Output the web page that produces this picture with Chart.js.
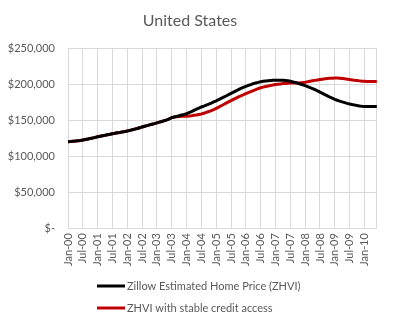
<!DOCTYPE html>
<html>
<head>
<meta charset="utf-8">
<script src="https://cdn.jsdelivr.net/npm/chart.js@4"></script>
<style>
html,body{margin:0;padding:0;background:#fff;}
#wrap{position:relative;width:395px;height:324px;}
</style>
</head>
<body>
<div id="wrap"><canvas id="c" width="395" height="324"></canvas></div>
<script>
const monthNames = ['Jan','Feb','Mar','Apr','May','Jun','Jul','Aug','Sep','Oct','Nov','Dec'];
const yearCodes = ['00','01','02','03','04','05','06','07','08','09','10'];
const categories = [];
for (const y of yearCodes) for (const m of monthNames) categories.push(m + '-' + y);
categories.length = 126; // Jan-00 .. Jun-10

// values in thousands of dollars
const zhvi = [
  120.0,120.3,120.7,121.0,121.4,121.8,122.4,123.1,123.8,124.6,125.3,126.1,
  127.0,127.7,128.4,129.0,129.7,130.4,131.2,131.8,132.4,133.0,133.7,134.3,
  135.0,135.8,136.6,137.5,138.4,139.4,140.6,141.5,142.4,143.4,144.3,145.2,
  146.2,147.2,148.2,149.4,150.5,151.8,153.5,154.4,155.3,156.2,157.1,158.0,
  159.0,160.5,162.0,163.6,165.2,166.8,168.3,169.6,171.0,172.4,173.8,175.3,
  176.8,178.5,180.2,181.9,183.6,185.4,187.2,189.0,190.8,192.5,194.2,195.7,
  197.0,198.3,199.5,200.7,201.7,202.5,203.4,204.0,204.5,204.9,205.2,205.4,
  205.5,205.5,205.5,205.4,205.2,204.8,204.0,203.2,202.3,201.3,200.2,199.1,
  198.0,196.7,195.3,193.9,192.3,190.7,189.0,187.3,185.5,183.8,182.1,180.5,
  179.0,177.7,176.5,175.4,174.4,173.4,172.5,171.7,171.0,170.4,169.8,169.3,
  169.0,168.9,168.9,168.9,168.9,168.9
];
const stableCredit = [
  120.0,120.3,120.7,121.0,121.4,121.8,122.4,123.1,123.8,124.6,125.3,126.1,
  127.0,127.7,128.4,129.0,129.7,130.4,131.2,131.8,132.4,133.0,133.7,134.3,
  135.0,135.8,136.6,137.5,138.4,139.4,140.6,141.5,142.4,143.4,144.3,145.2,
  146.2,147.2,148.2,149.4,150.5,151.8,153.5,154.4,154.9,155.2,155.3,155.4,
  155.5,155.8,156.2,156.7,157.3,157.9,158.5,159.6,160.8,162.0,163.3,164.8,
  166.5,168.2,170.0,171.8,173.6,175.4,177.2,178.9,180.6,182.3,183.8,185.3,
  187.0,188.4,189.8,191.1,192.4,193.7,195.0,195.9,196.7,197.5,198.2,198.9,
  199.5,200.0,200.4,200.8,201.1,201.3,201.5,201.6,201.7,201.8,202.0,202.3,
  202.7,203.3,204.0,204.7,205.3,205.9,206.4,206.9,207.4,207.8,208.1,208.4,
  208.5,208.5,208.3,207.9,207.4,206.9,206.4,205.9,205.4,205.0,204.6,204.2,
  204.0,203.8,203.7,203.6,203.6,203.6
];
const seriesNames = ['Zillow Estimated Home Price (ZHVI)', 'ZHVI with stable credit access'];
const seriesColors = ['#000000', '#c00000'];
const yTicks = [0, 50, 100, 150, 200, 250];

const FONT = 'Lato, "Open Sans", sans-serif';
const GRAY = '#595959';
const GRID = '#d9d9d9';

const legendPlugin = {
  id: 'customLegend',
  afterDraw(chart) {
    const ctx = chart.ctx;
    ctx.save();
    ctx.font = '11px ' + FONT;
    ctx.textBaseline = 'middle';
    ctx.textAlign = 'left';
    const rows = [286, 308];
    seriesNames.forEach((name, i) => {
      ctx.strokeStyle = seriesColors[i];
      ctx.lineWidth = 3;
      ctx.beginPath();
      ctx.moveTo(97, rows[i]);
      ctx.lineTo(125, rows[i]);
      ctx.stroke();
      ctx.fillStyle = GRAY;
      ctx.fillText(name, 127, rows[i]);
    });
    ctx.restore();
  }
};

new Chart(document.getElementById('c'), {
  type: 'line',
  data: {
    labels: categories,
    datasets: [
      { label: seriesNames[0], data: zhvi, borderColor: seriesColors[0], borderWidth: 3, pointRadius: 0, tension: 0, fill: false },
      { label: seriesNames[1], data: stableCredit, borderColor: seriesColors[1], borderWidth: 3, pointRadius: 0, tension: 0, fill: false }
    ]
  },
  options: {
    responsive: false,
    animation: false,
    layout: { padding: { left: 0, right: 15, top: 0, bottom: 53 } },
    plugins: {
      legend: { display: false },
      tooltip: { enabled: false },
      title: {
        display: true,
        text: 'United States',
        color: GRAY,
        font: { family: FONT, size: 16, weight: 'normal' },
        padding: { top: 11, bottom: 18 }
      }
    },
    scales: {
      x: {
        type: 'category',
        offset: false,
        border: { display: false },
        grid: {
          drawTicks: false,
          color: (c) => (c.index % 6 === 0 || c.index === categories.length - 1) ? GRID : 'rgba(0,0,0,0)',
          lineWidth: 1
        },
        ticks: {
          autoSkip: false,
          minRotation: 90,
          maxRotation: 90,
          padding: 5,
          color: GRAY,
          font: { family: FONT, size: 11 },
          callback: function (v, i) { return i % 6 === 0 ? categories[i] : ''; }
        }
      },
      y: {
        min: 0,
        max: 250,
        border: { display: false },
        grid: { drawTicks: false, color: GRID },
        afterBuildTicks: (axis) => { axis.ticks = yTicks.map(v => ({ value: v })); },
        afterFit: (axis) => { axis.width = 68; },
        ticks: {
          padding: 13,
          color: GRAY,
          font: { family: FONT, size: 11 },
          callback: (v) => v === 0 ? '$-' : '$' + (v * 1000).toLocaleString('en-US')
        }
      }
    }
  },
  plugins: [legendPlugin]
});
</script>
</body>
</html>
